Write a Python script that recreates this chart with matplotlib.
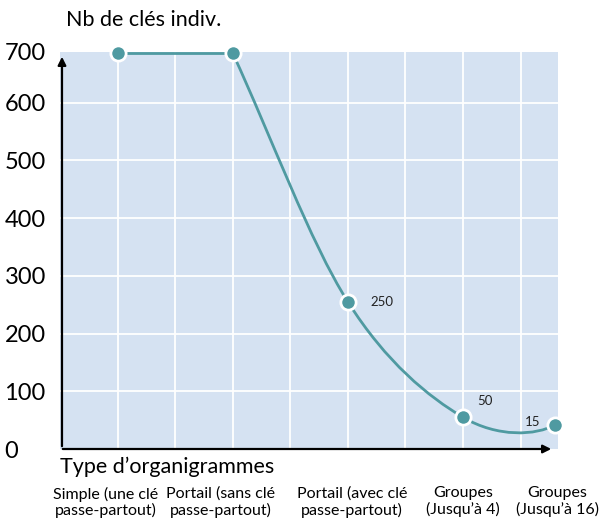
import matplotlib
matplotlib.use("Agg")
import matplotlib.pyplot as plt
from matplotlib.path import Path
from matplotlib.patches import PathPatch
from matplotlib.transforms import ScaledTranslation, blended_transform_factory

plt.rcParams["font.family"] = ["Lato", "DejaVu Sans"]

# data
categories = ["Simple (une clé\npasse-partout)", "Portail (sans clé\npasse-partout)",
              "Portail (avec clé\npasse-partout)", "Groupes\n(Jusqu’à 4)", "Groupes\n(Jusqu’à 16)"]
x_pos = [1, 3, 5, 7, 8.6]          # positions on the half-category grid
values = [686, 686, 255, 55, 42]    # plotted height
value_labels = ["", "", "250", "50", "15"]
y_ticks = [0, 100, 200, 300, 400, 500, 600]
top_label = "700"

teal = "#4f9aa1"
bg = "#d5e2f2"

fig = plt.figure(figsize=(6.04, 5.19), dpi=100)
ax = fig.add_axes([60 / 604, 70 / 519, 498 / 604, 397 / 519])
ax.set_facecolor(bg)
ax.set_xlim(0, 8.65)
ax.set_ylim(0, 688)

for k in range(1, 9):
    ax.axvline(k, color="white", lw=1.3, zorder=1)
for v in y_ticks[1:]:
    ax.axhline(v, color="white", lw=1.3, zorder=1)

# line: straight plateau, then a smooth curve through the remaining points
pts = list(zip(x_pos, values))
ax.plot(x_pos[:2], values[:2], color=teal, lw=2, zorder=3)
tang = {}
tang[1] = (pts[2][0] - pts[1][0], pts[2][1] - pts[1][1])
for i in (2, 3):
    tang[i] = ((pts[i + 1][0] - pts[i - 1][0]) / 2, (pts[i + 1][1] - pts[i - 1][1]) / 2)
tang[4] = (0.7 * (2 * (pts[4][0] - pts[3][0]) - tang[3][0]),
           0.7 * (2 * (pts[4][1] - pts[3][1]) - tang[3][1]))
verts = [pts[1]]
codes = [Path.MOVETO]
for i in (1, 2, 3):
    p0, p1 = pts[i], pts[i + 1]
    t0, t1 = tang[i], tang[i + 1]
    verts += [(p0[0] + t0[0] / 3, p0[1] + t0[1] / 3),
              (p1[0] - t1[0] / 3, p1[1] - t1[1] / 3), p1]
    codes += [Path.CURVE4] * 3
ax.add_patch(PathPatch(Path(verts, codes), facecolor="none", edgecolor=teal, lw=2, zorder=3))

ax.plot(x_pos, values, "o", ms=11, color=teal, mec="white", mew=2, zorder=4, clip_on=False)

offsets = [(0, 0), (0, 0), (16, 0), (10, 12), (-22, 2)]
for x, v, lab, off in zip(x_pos, values, value_labels, offsets):
    if lab:
        ax.annotate(lab, (x, v), xytext=off, textcoords="offset points",
                    fontsize=9.5, color="#222222", va="center")

for s in ("top", "right", "left", "bottom"):
    ax.spines[s].set_visible(False)
ax.annotate("", xy=(0.004, 0.995), xytext=(0.004, 0), xycoords="axes fraction",
            arrowprops=dict(arrowstyle="-|>", color="black", lw=1.6, mutation_scale=12))
ax.annotate("", xy=(0.992, 0.0), xytext=(0.0, 0.0), xycoords="axes fraction",
            arrowprops=dict(arrowstyle="-|>", color="black", lw=1.6, mutation_scale=12))

ax.set_yticks(y_ticks)
ax.set_yticklabels([str(v) for v in y_ticks], fontsize=17, ha="left")
ax.tick_params(axis="y", length=0, pad=40)
# top value sits at the upper edge of the plot
ax.text(5 / 604, values[0], top_label, fontsize=17, va="center", ha="left",
        transform=blended_transform_factory(fig.transFigure, ax.transData))

ax.set_xticks(x_pos)
ax.set_xticklabels(categories, fontsize=11.5, linespacing=1.15)
ax.tick_params(axis="x", length=0, pad=27)
# nudge category labels like the original layout
for lab, dx in zip(ax.get_xticklabels(), [-12, -12, 4, 0, 2]):
    lab.set_transform(lab.get_transform() + ScaledTranslation(dx / 100, 0, fig.dpi_scale_trans))

fig.text(66 / 604, 1 - 20 / 519, "Nb de clés indiv.", fontsize=15.5, va="center", ha="left")
fig.text(60 / 604, 1 - 467 / 519, "Type d’organigrammes", fontsize=15.5, va="center", ha="left")

fig.savefig("out.png", dpi=100)
